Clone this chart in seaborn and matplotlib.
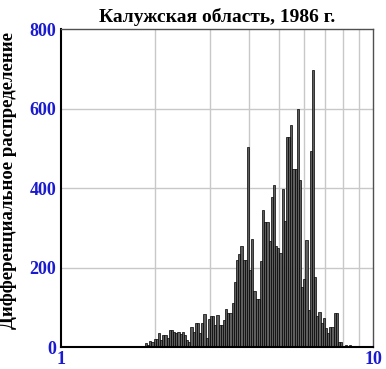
import numpy as np
import pandas as pd
import matplotlib
matplotlib.use('Agg')
import matplotlib.pyplot as plt
import seaborn as sns

# log10 position of first bin centre and bin width (log units)
log_start = 0.273
log_step = 0.00694

counts = [9, 5, 16, 13, 21, 21, 34, 18, 30, 30,
          22, 43, 43, 38, 34, 39, 32, 39, 30, 18,
          13, 51, 39, 60, 60, 34, 60, 82, 22, 70,
          78, 78, 55, 80, 55, 55, 68, 95, 86, 86,
          110, 164, 220, 234, 255, 220, 219, 504, 194, 271,
          141, 120, 120, 216, 346, 315, 315, 267, 377, 407,
          255, 248, 236, 398, 317, 528, 528, 558, 447, 447,
          599, 420, 152, 170, 269, 93, 494, 698, 175, 78,
          89, 60, 74, 47, 34, 51, 50, 85, 85, 13,
          13, 0, 4, 0, 5]

x_ticks = [1, 10]
y_ticks = [0, 200, 400, 600, 800]
title = 'Калужская область, 1986 г.'
ylabel = 'Дифференциальное распределение'

n = len(counts)
centers = log_start + log_step * np.arange(n)
df = pd.DataFrame({'logx': centers, 'count': counts})

sns.set_style('white')
plt.rcParams['font.family'] = ['Liberation Serif', 'DejaVu Serif']
plt.rcParams['font.weight'] = 'bold'
plt.rcParams['text.color'] = 'black'
plt.rcParams['axes.labelcolor'] = 'black'

fig = plt.figure(figsize=(3.86, 3.69), dpi=100)
ax = fig.add_axes([0.157, 0.0596, 0.81, 0.8616])

# grid first so the bars sit on top
for k in range(2, 10):
    ax.axvline(np.log10(k), color='#c8c8c8', lw=1, zorder=0)
for v in y_ticks[1:-1]:
    ax.axhline(v, color='#c8c8c8', lw=1, zorder=0)

sns.histplot(data=df, x='logx', weights='count', bins=n,
             binrange=(log_start - log_step / 2, log_start + log_step * (n - 0.5)),
             color='#5e5e5e', alpha=1, edgecolor='black', linewidth=0.5, ax=ax, zorder=2)

ax.set_xlim(0, 1)
ax.set_ylim(0, 800)
ax.set_xticks(np.log10(x_ticks))
ax.set_xticklabels([str(t) for t in x_ticks])
ax.set_yticks(y_ticks)
ax.tick_params(length=0, labelsize=13, labelcolor='#1a1ad0', pad=3)
for lab in ax.get_xticklabels() + ax.get_yticklabels():
    lab.set_fontweight('bold')

ax.set_xlabel('')
ax.set_ylabel(ylabel, fontsize=13.5, fontweight='bold')
ax.yaxis.set_label_coords(-0.14, 0.525)
ax.set_title(title, fontsize=14, fontweight='bold', pad=5)

for side in ['top', 'right']:
    ax.spines[side].set_color('#505050')
    ax.spines[side].set_linewidth(1)
for side in ['left', 'bottom']:
    ax.spines[side].set_color('black')
    ax.spines[side].set_linewidth(1.5)

fig.savefig('out.png', dpi=100)
